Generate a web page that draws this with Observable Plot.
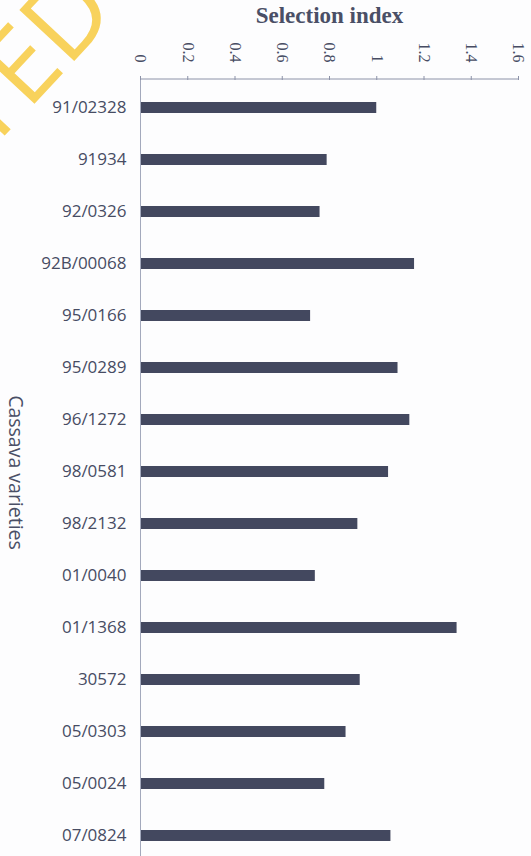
<!DOCTYPE html>
<html>
<head>
<meta charset="utf-8">
<script src="https://cdn.jsdelivr.net/npm/d3@7"></script>
<script src="https://cdn.jsdelivr.net/npm/@observablehq/plot@0.6"></script>
<style>
  html, body { margin: 0; padding: 0; background: #fdfdfe; overflow: hidden; }
  #wrap { position: relative; width: 531px; height: 856px; overflow: hidden; }
  #watermark {
    position: absolute; left: -80px; top: 90px;
    font-family: "Open Sans", sans-serif; font-size: 105px; font-weight: 500;
    color: #f8d25c; transform: rotate(-47deg); transform-origin: 0 0;
    white-space: nowrap; line-height: 1; pointer-events: none;
  }
  #chart { position: absolute; left: 0; top: 0; }
</style>
</head>
<body>
<div id="wrap">
  <div id="chart"></div>
  <div id="watermark">TED</div>
</div>
<script>
const varieties = ["91/02328", "91934", "92/0326", "92B/00068", "95/0166", "95/0289", "96/1272",
  "98/0581", "98/2132", "01/0040", "01/1368", "30572", "05/0303", "05/0024", "07/0824"];
const selectionIndex = [1.00, 0.79, 0.76, 1.16, 0.72, 1.09, 1.14, 1.05, 0.92, 0.74, 1.34, 0.93, 0.87, 0.78, 1.06];
const xTicks = [0, 0.2, 0.4, 0.6, 0.8, 1, 1.2, 1.4, 1.6];
const xLabel = "Selection index";
const yLabel = "Cassava varieties";

const data = varieties.map((v, i) => ({variety: v, value: selectionIndex[i]}));
const textColor = "#474c63";

const topLine = (index, scales, values, dims) => {
  return d3.create("svg:line")
    .attr("x1", dims.marginLeft).attr("x2", dims.width - dims.marginRight)
    .attr("y1", dims.marginTop).attr("y2", dims.marginTop)
    .attr("stroke", "#8c92a8").attr("stroke-width", 1).node();
};

const chart = Plot.plot({
  width: 531,
  height: 866,
  marginTop: 79,
  marginLeft: 140,
  marginRight: 13,
  marginBottom: 1,
  style: {background: "transparent", color: textColor},
  x: {domain: [0, 1.6], axis: null},
  y: {domain: varieties, paddingInner: 0.78, paddingOuter: 0.39, axis: null},
  marks: [
    Plot.barX(data, {x: "value", y: "variety", fill: "#43485f"}),
    Plot.ruleX([0], {stroke: "#a3a9bc", strokeWidth: 1}),
    topLine,
    Plot.axisX({
      anchor: "top", ticks: xTicks, tickFormat: d => String(+d.toFixed(1)),
      tickRotate: 90, tickSize: 4, tickPadding: 13, label: null,
      fontFamily: "Liberation Serif, serif", fontSize: 16, stroke: "#8c92a8", fill: textColor
    }),
    Plot.axisY({
      anchor: "left", tickSize: 0, tickPadding: 14, label: null,
      fontFamily: "Open Sans, sans-serif", fontSize: 17, fill: textColor
    }),
    Plot.text([xLabel], {
      frameAnchor: "top", dy: -73, fontFamily: "Liberation Serif, serif",
      fontSize: 23, fontWeight: "bold", fill: "#4a4f66"
    }),
    Plot.text([yLabel], {
      frameAnchor: "left", dx: -125, rotate: 90, textAnchor: "middle",
      fontFamily: "Open Sans, sans-serif", fontSize: 19.5, fill: "#4a4f66"
    })
  ]
});
document.getElementById("chart").append(chart);
</script>
</body>
</html>
